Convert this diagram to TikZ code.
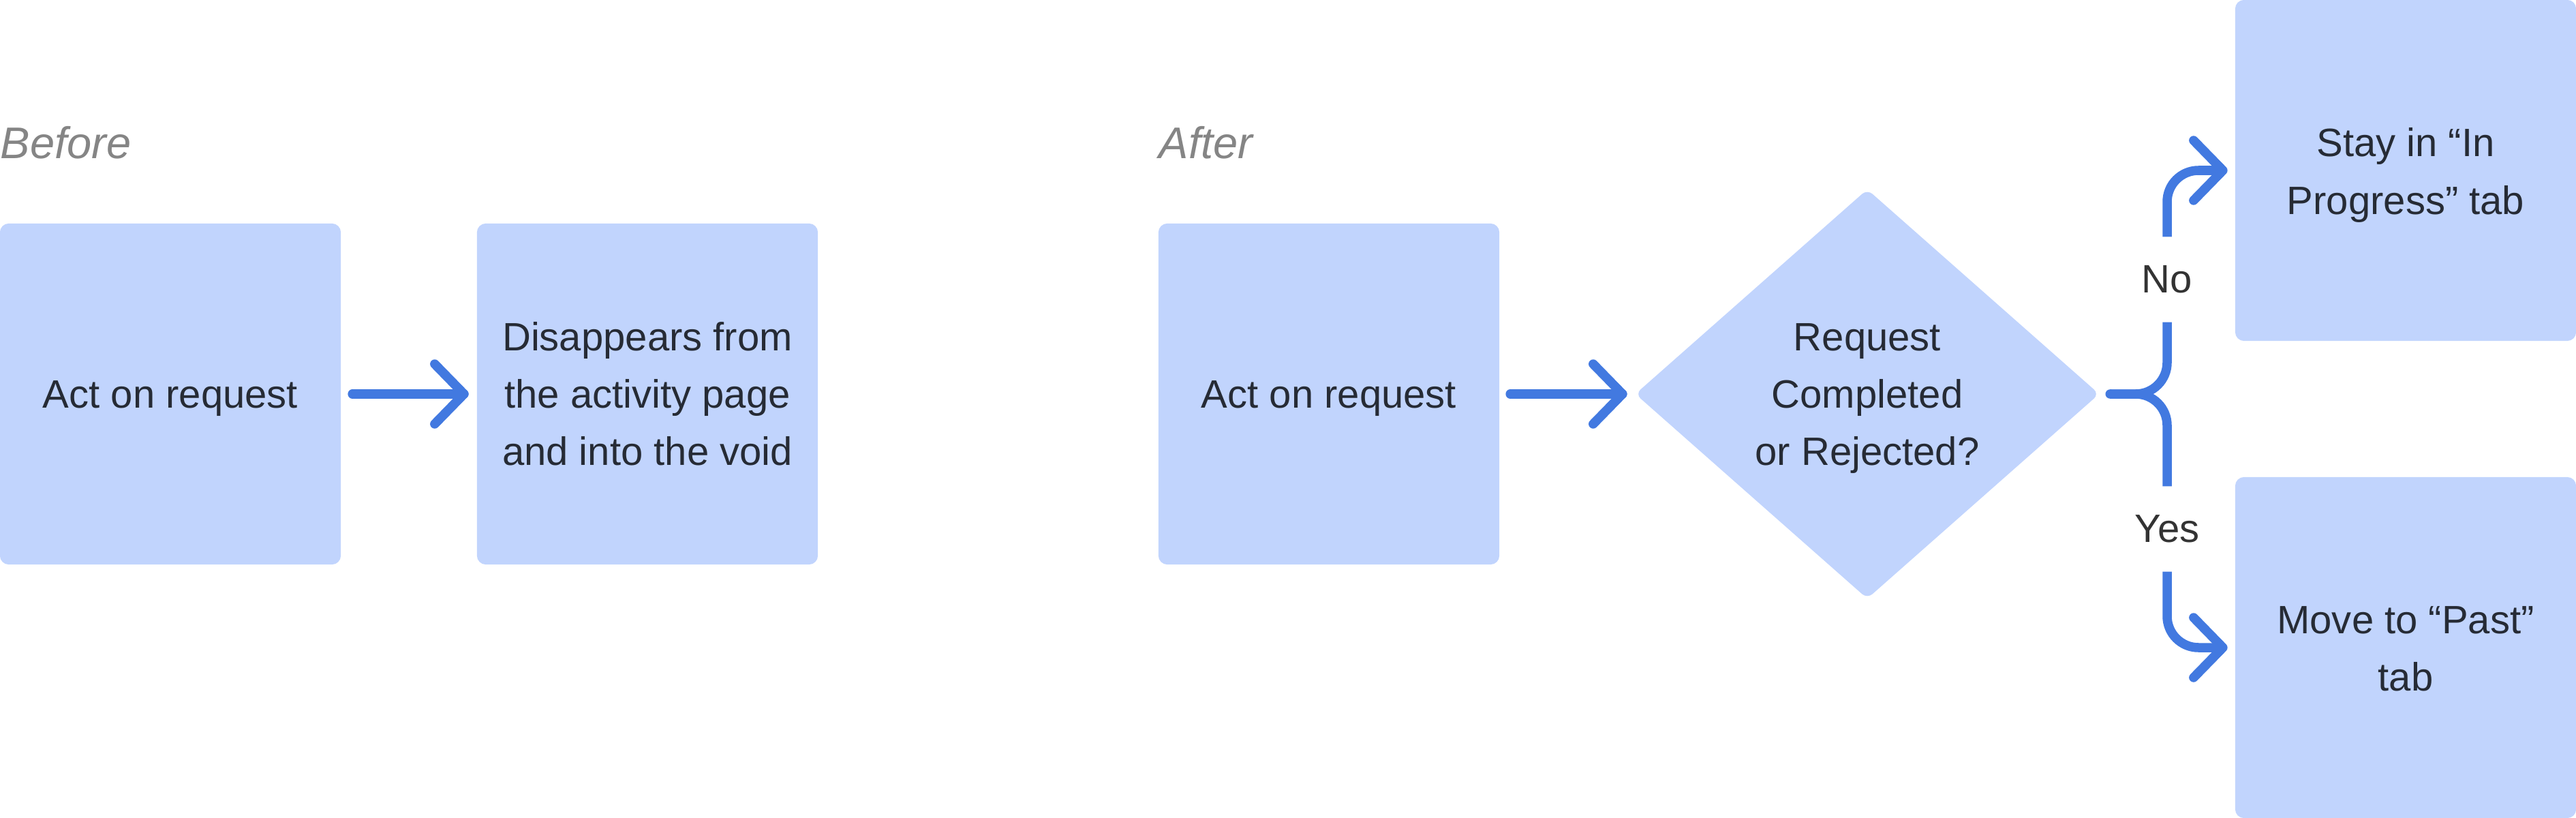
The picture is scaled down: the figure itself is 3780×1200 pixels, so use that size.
\documentclass[tikz,border=0pt]{standalone}
\usepackage{fontspec}
\setmainfont{Liberation Sans}
\usetikzlibrary{shapes.geometric,calc}
\definecolor{boxfill}{HTML}{C1D4FD}
\definecolor{linkblue}{HTML}{4279E0}
\definecolor{txtdark}{HTML}{262B35}
\definecolor{lbldark}{HTML}{333333}
\definecolor{headgray}{HTML}{858585}
\newcommand{\chevron}[1]{\draw[chev] ($(#1)+(-43,-44)$) -- (#1) -- ($(#1)+(-43,44)$);}
\begin{document}
\begin{tikzpicture}[x=0.01cm,y=-0.01cm,
  box/.style={fill=boxfill, rounded corners=0.13cm, minimum width=5cm, minimum height=5cm,
    inner sep=0pt, outer sep=0pt},
  decision/.style={shape=diamond, fill=boxfill, rounded corners=0.1cm, minimum width=6.8cm,
    minimum height=6cm, inner sep=0pt, outer sep=0pt},
  boxtext/.style={inner sep=0pt, align=center, text=txtdark, font=\fontsize{16.5}{23.9}\selectfont},
  heading/.style={anchor=base west, inner sep=0pt, text=headgray, font=\fontsize{18.5}{22}\selectfont\itshape},
  branchlabel/.style={inner sep=0pt, minimum height=1.24cm, text=lbldark, font=\fontsize{16.5}{20}\selectfont},
  conn/.style={draw=linkblue, line width=0.135cm, line cap=round},
  branch/.style={draw=linkblue, line width=0.135cm, line cap=butt, rounded corners=0.46cm},
  chev/.style={draw=linkblue, line width=0.135cm, line cap=round, line join=round},
]
\useasboundingbox (0,0) rectangle (3780,1200);

% headings
\node[heading] (before) at (0,232) {Before};
\node[heading] (after) at (1700,232) {After};

% before
\node[box] (a1) at (250,578) {};
\node[boxtext] (a1t) at ($(a1.center)+(0,7)$) {Act on request};
\node[box] (a2) at (950,578) {};
\node[boxtext] (a2t) at ($(a2.center)+(0,0)$) {Disappears from\\the activity page\\and into the void};

% after
\node[box] (b1) at (1950,578) {};
\node[boxtext] (b1t) at ($(b1.center)+(0,7)$) {Act on request};
\node[decision] (d) at (2740,578) {};
\node[boxtext] (dt) at ($(d.center)+(0,7)$) {Request\\Completed\\or Rejected?};
\node[box] (c1) at (3530,250) {};
\node[boxtext] (c1t) at ($(c1.center)+(0,7)$) {Stay in “In\\Progress” tab};
\node[box] (c2) at (3530,950) {};
\node[boxtext] (c2t) at ($(c2.center)+(0,2)$) {Move to “Past”\\tab};

% branch labels
\node[branchlabel] (no) at (3180,410) {No};
\node[branchlabel] (yes) at (3180,776) {Yes};

% arrow before
\coordinate (t1) at ($(a2.west)+(-19,0)$);
\draw[conn] ($(a1.east)+(17,0)$) -- (t1);
\chevron{t1}

% arrow after
\coordinate (t2) at ($(d.west)+(-19,0)$);
\draw[conn] ($(b1.east)+(16,0)$) -- (t2);
\chevron{t2}

% branch
\coordinate (bs) at ($(d.east)+(16,0)$);
\fill[linkblue] (bs) circle[radius=0.0675cm];
\draw[branch] (bs) -| (no.south);
\draw[branch] (bs) -| (yes.north);
\coordinate (t3) at ($(c1.west)+(-18,0)$);
\coordinate (t4) at ($(c2.west)+(-18,0)$);
\draw[branch] (no.north) |- (t3);
\draw[branch] (yes.south) |- (t4);
\chevron{t3}
\chevron{t4}
\end{tikzpicture}
\end{document}
